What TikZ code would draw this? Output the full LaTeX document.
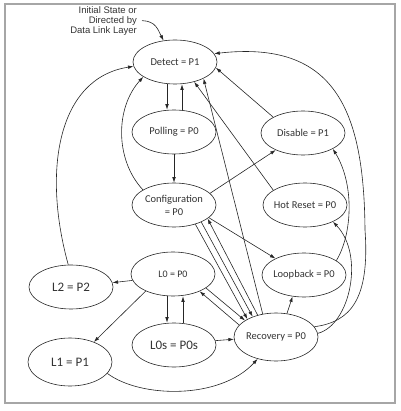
\documentclass[tikz,border=0pt]{standalone}
\usepackage{fontspec}
\setmainfont{Carlito}
\newfontfamily\arialf{Liberation Sans}
\usetikzlibrary{shapes.geometric,arrows.meta}
\begin{document}
\begin{tikzpicture}[x=1pt,y=-1pt,
  st/.style={ellipse,draw=black!85,line width=0.6pt,minimum width=84pt,minimum height=44pt,
     inner xsep=-14pt,inner ysep=0pt,font=\fontsize{10.5}{13}\selectfont,text=black!80},
  big/.style={st,font=\fontsize{13}{14}\selectfont},
  arr/.style={draw=black!85,line width=0.6pt,-{Latex[length=5.5pt,width=3.6pt]}}]
\useasboundingbox (0,0) rectangle (400,411);
\draw[gray!70,line width=1.2pt] (5,4) rectangle (395,403);

\node[st] (det) at (175,62) {Detect = P1};
\node[st] (pol) at (174,132) {Polling = P0};
\node[st] (dis) at (303,133) {Disable = P1};
\node[st,align=center] (cfg) at (174,205) {Configuration\\= P0};
\node[st] (hot) at (305,205) {Hot Reset = P0};
\node[st,font=\fontsize{10}{11}\selectfont] (l0) at (173,274) {L0 = P0};
\node[st] (lb) at (304,275) {Loopback = P0};
\node[big] (l2) at (71,287) {L2 = P2};
\node[big,minimum height=48pt] (l1) at (70,362) {L1 = P1};
\node[big] (l0s) at (174,345) {L0s = P0s};
\node[st,minimum height=48pt] (rec) at (276,337) {Recovery = P0};

\node[font=\arialf\fontsize{9.5}{10}\selectfont,align=right,inner sep=0pt,anchor=north east,text=black!80] (init) at (137,6) {Initial State or\\Directed by\\Data Link Layer};
\draw[arr] ([xshift=5pt]init.east) .. controls (156,21) and (158,30) .. (det.118);

\draw[arr] ([xshift=-8pt]det.south) -- ([xshift=-7pt]pol.north);
\draw[arr] ([xshift=8pt]pol.north) -- ([xshift=7pt]det.south);
\draw[arr] (pol) -- (cfg);
\draw[arr] (cfg.154) .. controls (115,160) and (115,108) .. (det.205);
\draw[arr] (l2.97) .. controls (42,170) and (58,78) .. (det.186);
\draw[arr] (cfg.18) -- (dis.212);
\draw[arr] (hot.155) -- (det.-46);
\draw[arr] (rec.120) -- (det.-30);
\draw[arr] (dis.152) -- (det.-8);
\coordinate (rarc) at (365,230);
\draw[arr] (rec.15) .. controls (350,322) and (370,300) .. (rarc) .. controls (364,110) and (335,40) .. (det.12);
\draw[arr] (lb.24) .. controls (352,235) and (355,185) .. (dis.-28);
\draw[arr] (rec.5) .. controls (350,325) and (365,255) .. (hot.-31);
\draw[arr] (cfg.-20) -- (lb.150);
\draw[arr] (cfg.-42) -- (rec.148);
\draw[arr] (cfg.-32) -- (rec.139);
\draw[arr] (rec.130) -- (cfg.-22);
\draw[arr] (l0.-23) -- (rec.152);
\draw[arr] (rec.162) -- (l0.-33);
\draw[arr] ([xshift=-6pt]l0.south) -- ([xshift=-7pt]l0s.north);
\draw[arr] ([xshift=9pt]l0s.north) -- ([xshift=10pt]l0.south);
\draw[arr] (l0s.6) -- (rec.183);
\draw[arr] (l0.189) -- (l2.6);
\draw[arr] (l0.212) -- (l1.40);
\draw[arr] (l1.-17) .. controls (140,398) and (220,400) .. (rec.-130);
\draw[arr] (rec.65) -- (lb.242);
\end{tikzpicture}
\end{document}
